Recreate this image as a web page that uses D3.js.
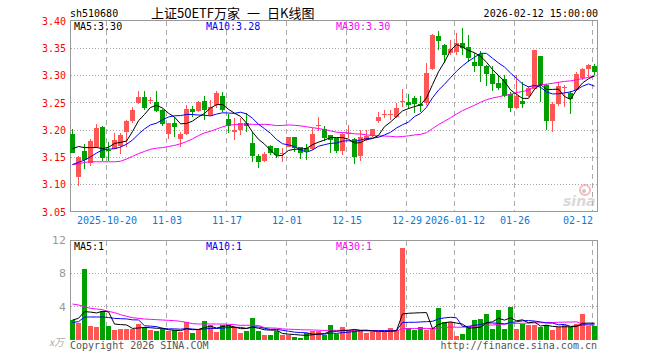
<!DOCTYPE html>
<html>
<head>
<meta charset="utf-8">
<script src="https://cdn.jsdelivr.net/npm/d3@7"></script>
<style>
  body { margin: 0; background: #fff; }
  svg { display: block; }
</style>
</head>
<body>
<svg id="chart" width="660" height="360"></svg>
<script>
// daily candles, 2025-10-10 .. 2026-02-12 (88 sessions)
const open  = [3.193,3.115,3.162,3.140,3.170,3.205,3.163,3.166,3.171,3.196,
               3.216,3.250,3.261,3.253,3.252,3.237,3.193,3.213,3.184,3.193,
               3.239,3.235,3.254,3.228,3.246,3.263,3.220,3.196,3.200,3.214,
               3.177,3.153,3.144,3.171,3.167,3.156,3.170,3.187,3.169,3.167,
               3.165,3.208,3.202,3.191,3.185,3.162,3.193,3.184,3.152,3.182,
               3.189,3.216,3.227,3.228,3.225,3.251,3.252,3.259,3.248,3.249,
               3.312,3.373,3.356,3.341,3.344,3.359,3.353,3.324,3.339,3.318,
               3.302,3.286,3.294,3.266,3.241,3.254,3.263,3.275,3.336,3.283,
               3.217,3.248,3.278,3.268,3.274,3.295,3.312,3.317];
const high  = [3.202,3.152,3.175,3.183,3.211,3.208,3.178,3.194,3.194,3.218,
               3.242,3.272,3.271,3.261,3.272,3.239,3.214,3.224,3.196,3.246,
               3.244,3.254,3.262,3.255,3.271,3.269,3.229,3.222,3.222,3.231,
               3.196,3.157,3.160,3.172,3.168,3.168,3.188,3.188,3.170,3.175,
               3.204,3.225,3.208,3.192,3.186,3.195,3.210,3.186,3.200,3.200,
               3.203,3.233,3.237,3.237,3.249,3.276,3.266,3.263,3.263,3.323,
               3.376,3.382,3.357,3.365,3.378,3.388,3.375,3.341,3.345,3.320,
               3.318,3.301,3.301,3.269,3.301,3.289,3.280,3.347,3.336,3.284,
               3.252,3.289,3.283,3.271,3.306,3.313,3.321,3.321];
const low   = [3.158,3.098,3.128,3.135,3.167,3.144,3.144,3.165,3.157,3.169,
               3.213,3.248,3.237,3.248,3.234,3.207,3.184,3.188,3.170,3.192,
               3.224,3.234,3.218,3.226,3.240,3.233,3.194,3.182,3.191,3.197,
               3.141,3.131,3.142,3.155,3.149,3.142,3.169,3.160,3.147,3.146,
               3.163,3.199,3.180,3.158,3.158,3.155,3.185,3.138,3.144,3.180,
               3.188,3.214,3.223,3.219,3.223,3.243,3.239,3.231,3.234,3.246,
               3.310,3.347,3.323,3.338,3.337,3.338,3.324,3.307,3.289,3.281,
               3.271,3.274,3.260,3.233,3.238,3.241,3.260,3.274,3.252,3.200,
               3.197,3.245,3.243,3.230,3.271,3.292,3.298,3.301];
const close = [3.159,3.151,3.146,3.181,3.204,3.149,3.162,3.182,3.191,3.216,
               3.236,3.261,3.240,3.255,3.235,3.212,3.213,3.205,3.193,3.238,
               3.234,3.252,3.236,3.243,3.268,3.236,3.208,3.200,3.214,3.207,
               3.153,3.142,3.156,3.158,3.155,3.158,3.187,3.167,3.159,3.161,
               3.193,3.210,3.186,3.182,3.161,3.193,3.195,3.150,3.187,3.189,
               3.202,3.224,3.230,3.229,3.240,3.253,3.246,3.248,3.244,3.304,
               3.375,3.364,3.338,3.349,3.359,3.351,3.333,3.317,3.318,3.303,
               3.285,3.278,3.263,3.240,3.262,3.248,3.278,3.347,3.283,3.217,
               3.248,3.281,3.279,3.257,3.303,3.312,3.320,3.306];
// volume, 万手
const volume = [2.44,2.04,8.52,1.68,1.56,3.44,1.68,1.20,1.36,1.36,
                1.36,1.92,1.52,1.20,1.04,1.36,1.04,1.20,0.96,2.16,
                0.80,1.24,2.28,1.84,0.96,1.76,1.76,1.52,0.80,1.04,
                2.64,1.04,0.64,0.56,1.04,0.64,0.64,0.40,0.24,0.84,
                1.04,1.04,0.64,1.76,0.72,1.56,1.16,1.16,1.16,0.88,
                1.00,1.00,1.00,1.40,1.16,11.08,1.40,1.16,1.56,1.24,
                1.44,3.88,2.20,2.12,0.52,0.76,1.52,2.40,2.56,3.12,
                1.32,3.60,1.32,3.96,1.32,1.92,1.80,1.80,1.56,1.80,
                1.20,1.56,1.80,1.60,1.92,3.12,1.72,1.72];

// moving-average values before a full window exists
const ma5Lead  = [3.166,3.170,3.168,3.168];
const ma10Lead = [3.137,3.141,3.145,3.151,3.158,3.164,3.165,3.166,3.169];
const ma30Lead = [3.137,3.138,3.141,3.142,3.142,3.142,3.142,3.142,3.143,3.147,
                  3.152,3.157,3.161,3.165,3.167,3.168,3.170,3.172,3.175,3.179,
                  3.184,3.190,3.195,3.198,3.202,3.206,3.209,3.210,3.211];
const volMa5Lead  = [2.40,2.60,3.40,3.35];
const volMa10Lead = [2.10,2.20,2.76,2.76,2.76,2.76,2.70,2.60,2.56];
const volMa30Lead = [4.32,4.20,4.00,3.80,3.72,3.64,3.44,3.28,3.04,2.84,
                     2.68,2.60,2.52,2.48,2.44,2.40,2.36,2.32,2.24,2.12,
                     1.96,1.92,1.92,1.92,1.92,1.92,1.88,1.84,1.76];

const tickIdx    = [6,16,26,36,46,56,64,74,87];
const tickLabels = ['2025-10-20','11-03','11-17','12-01','12-15','12-29','2026-01-12','01-26','02-12'];
const priceTicks = [3.05,3.10,3.15,3.20,3.25,3.30,3.35,3.40];
const volTicks   = [4,8,12];
const maLabels    = ['MA5:3.30','MA10:3.28','MA30:3.30'];
const volMaLabels = ['MA5:1','MA10:1','MA30:1'];

const UP = '#ff5555', DOWN = '#00a000';
const MA_COLORS = ['#000000','#0000ff','#ff00ff'];
const mono = '"DejaVu Sans Mono", monospace';

const svg = d3.select('#chart');

const x  = d3.scaleLinear().domain([0, 87]).range([72.5, 594.5]);
const y  = d3.scaleLinear().domain([3.05, 3.40]).range([212, 21]);
const yv = d3.scaleLinear().domain([0, 12]).range([340, 240]);
const L = 70.5, R = 597.5;
const crisp = v => Math.round(v - 0.5) + 0.5;

function movingAvg(values, n, lead) {
  return values.map((v, i) => i < n - 1 ? lead[i] : d3.mean(values.slice(i - n + 1, i + 1)));
}

const isUp = i => close[i] >= open[i];

// ---- header
svg.append('text').attr('x', 70).attr('y', 17).attr('font-family', mono).attr('font-size', 10)
  .text('sh510680');
const cjk = '"Noto Sans CJK SC", sans-serif';
svg.append('text').attr('x', 151).attr('y', 18).attr('font-family', cjk).attr('font-size', 13).text('上证50ETF万家');
svg.append('text').attr('x', 247).attr('y', 18).attr('font-family', cjk).attr('font-size', 13).text('一');
svg.append('text').attr('x', 267).attr('y', 18).attr('font-family', cjk).attr('font-size', 13).text('日K线图');
svg.append('text').attr('x', 598).attr('y', 17).attr('text-anchor', 'end')
  .attr('font-family', mono).attr('font-size', 10).text('2026-02-12 15:00:00');

// ---- grids
const grid = svg.append('g').attr('stroke', '#aaa').attr('shape-rendering', 'crispEdges');
priceTicks.slice(1, -1).forEach(p => {
  grid.append('line').attr('x1', L).attr('x2', R).attr('y1', crisp(y(p))).attr('y2', crisp(y(p)))
    .attr('stroke-dasharray', '1,2');
});
volTicks.slice(0, -1).forEach(v => {
  grid.append('line').attr('x1', L).attr('x2', R).attr('y1', crisp(yv(v))).attr('y2', crisp(yv(v)))
    .attr('stroke-dasharray', '1,2');
});
tickIdx.forEach(i => {
  const gx = x(i) - 2;
  grid.append('line').attr('x1', gx).attr('x2', gx).attr('y1', 21).attr('y2', 211)
    .attr('stroke-dasharray', '5,4');
  grid.append('line').attr('x1', gx).attr('x2', gx).attr('y1', 241).attr('y2', 340)
    .attr('stroke-dasharray', '5,4');
});

// frames
svg.append('rect').attr('x', L).attr('y', 20.5).attr('width', R - L).attr('height', 191)
  .attr('fill', 'none').attr('stroke', '#999').attr('shape-rendering', 'crispEdges');
svg.append('path').attr('d', `M${L},340V${240.5}H${R}V340`)
  .attr('fill', 'none').attr('stroke', '#999').attr('shape-rendering', 'crispEdges');

// ---- axes
const yAxis = svg.append('g').attr('transform', `translate(${L - 0.5},0)`)
  .call(d3.axisLeft(y).tickValues(priceTicks).tickSize(0).tickPadding(4).tickFormat(d3.format('.2f')));
yAxis.select('.domain').remove();
yAxis.selectAll('text').attr('fill', '#f00').attr('font-family', mono).attr('font-size', 10);

const xAxis = svg.append('g').attr('transform', 'translate(-2,212)')
  .call(d3.axisBottom(x).tickValues(tickIdx).tickSize(0).tickPadding(5)
    .tickFormat((d, k) => tickLabels[k]));
xAxis.select('.domain').remove();
xAxis.selectAll('text').attr('fill', '#0a7ad9').attr('font-family', mono).attr('font-size', 10);
xAxis.selectAll('text').filter((d, k) => k === tickIdx.length - 1).attr('text-anchor', 'end');

const vAxis = svg.append('g').attr('transform', `translate(${L - 0.5},0)`)
  .call(d3.axisLeft(yv).tickValues(volTicks).tickSize(0).tickPadding(4));
vAxis.select('.domain').remove();
vAxis.selectAll('text').attr('fill', '#999').attr('font-family', '"DejaVu Sans", sans-serif').attr('font-size', 11);
svg.append('text').attr('x', 64).attr('y', 346).attr('text-anchor', 'end').attr('fill', '#aaa')
  .attr('font-style', 'italic').attr('font-family', cjk).attr('font-size', 10).text('x万');

// ---- watermark
const wm = svg.append('g').attr('opacity', 0.55);
wm.append('circle').attr('cx', 585).attr('cy', 190).attr('r', 5).attr('fill', 'none')
  .attr('stroke', '#f08080').attr('stroke-width', 2);
wm.append('circle').attr('cx', 584).attr('cy', 191).attr('r', 2).attr('fill', '#999');
wm.append('text').attr('x', 563).attr('y', 206).attr('font-family', '"DejaVu Sans", sans-serif')
  .attr('font-size', 14).attr('font-style', 'italic').attr('font-weight', 'bold').attr('fill', '#bbb').text('sina');

// ---- candles
const idx = d3.range(close.length);
const candles = svg.append('g').attr('shape-rendering', 'crispEdges');
candles.selectAll('line').data(idx).join('line')
  .attr('x1', i => x(i)).attr('x2', i => x(i))
  .attr('y1', i => y(high[i])).attr('y2', i => y(low[i]))
  .attr('stroke', i => isUp(i) ? UP : DOWN);
candles.selectAll('rect').data(idx).join('rect')
  .attr('x', i => x(i) - 2.5).attr('width', 5)
  .attr('y', i => y(Math.max(open[i], close[i])))
  .attr('height', i => Math.max(1, Math.abs(y(open[i]) - y(close[i]))))
  .attr('fill', i => isUp(i) ? UP : DOWN);

// ---- volume bars
svg.append('g').attr('shape-rendering', 'crispEdges')
  .selectAll('rect').data(idx).join('rect')
  .attr('x', i => x(i) - 2.5).attr('width', 5)
  .attr('y', i => yv(volume[i])).attr('height', i => yv(0) - yv(volume[i]))
  .attr('fill', i => isUp(i) ? UP : DOWN);

// ---- moving averages
const priceMa = [movingAvg(close, 5, ma5Lead), movingAvg(close, 10, ma10Lead), movingAvg(close, 30, ma30Lead)];
const volMa = [movingAvg(volume, 5, volMa5Lead), movingAvg(volume, 10, volMa10Lead), movingAvg(volume, 30, volMa30Lead)];

const priceLine = d3.line().x((d, i) => x(i)).y(d => y(d));
const volLine = d3.line().x((d, i) => x(i)).y(d => yv(d));
[2, 1, 0].forEach(k => {
  svg.append('path').attr('d', priceLine(priceMa[k])).attr('fill', 'none')
    .attr('stroke', MA_COLORS[k]).attr('stroke-width', 1);
  svg.append('path').attr('d', volLine(volMa[k])).attr('fill', 'none')
    .attr('stroke', MA_COLORS[k]).attr('stroke-width', 1);
});

// ---- MA legends
const legendX = [74, 206, 336];
maLabels.forEach((t, k) => {
  svg.append('text').attr('x', legendX[k]).attr('y', 30).attr('fill', MA_COLORS[k])
    .attr('font-family', mono).attr('font-size', 10).text(t);
});
volMaLabels.forEach((t, k) => {
  svg.append('text').attr('x', legendX[k]).attr('y', 250).attr('fill', MA_COLORS[k])
    .attr('font-family', mono).attr('font-size', 10).text(t);
});

// ---- footer
svg.append('text').attr('x', 70).attr('y', 349).attr('fill', '#555')
  .attr('font-family', mono).attr('font-size', 10).text('Copyright 2026 SINA.COM');
svg.append('text').attr('x', 597).attr('y', 349).attr('text-anchor', 'end').attr('fill', '#555')
  .attr('font-family', mono).attr('font-size', 10).text('http://finance.sina.com.cn');
</script>
</body>
</html>
